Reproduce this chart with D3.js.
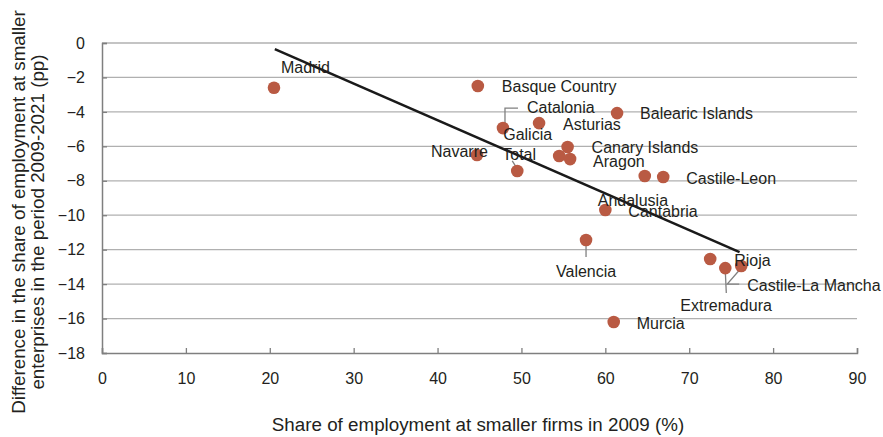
<!DOCTYPE html>
<html>
<head>
<meta charset="utf-8">
<script src="https://cdn.jsdelivr.net/npm/d3@7"></script>
<style>
  body { margin: 0; background: #fff; }
  text { font-family: "Liberation Sans", Arial, Helvetica, sans-serif; fill: #231f20; }
</style>
</head>
<body>
<div id="chart"></div>
<script>
const AREA_WIDTH = 883;
const AREA_HEIGHT = 437;

// data
const regions = ['Madrid', 'Basque Country', 'Catalonia', 'Asturias', 'Balearic Islands', 'Navarre',
  'Total', 'Canary Islands', 'Galicia', 'Aragon', 'Andalusia', 'Castile-Leon', 'Cantabria',
  'Valencia', 'Rioja', 'Extremadura', 'Castile-La Mancha', 'Murcia'];
const share2009 = [20.5, 44.8, 47.8, 52.1, 61.4, 44.7, 49.5, 55.5, 54.5, 55.8, 64.7, 66.9, 60.0,
  57.7, 72.5, 74.3, 76.2, 61.0];
const diffPP = [-2.6, -2.5, -4.94, -4.65, -4.07, -6.5, -7.43, -6.04, -6.56, -6.74, -7.72, -7.78, -9.7,
  -11.44, -12.54, -13.07, -12.95, -16.2];
const trendX = [20.6, 76.0];
const trendY = [-0.35, -12.14];
const xTicks = [0, 10, 20, 30, 40, 50, 60, 70, 80, 90];
const yTicks = [0, -2, -4, -6, -8, -10, -12, -14, -16, -18];

// label placement relative to the dot (pixels), and leader lines
const labelPos = {
  'Madrid': [7, -15],
  'Basque Country': [24, 6],
  'Catalonia': [24, -15],
  'Asturias': [24, 7],
  'Balearic Islands': [23, 6],
  'Navarre': [-46, 2],
  'Total': [-15, -11],
  'Canary Islands': [24, 6],
  'Galicia': [-56, -16],
  'Aragon': [23, 8],
  'Andalusia': [-47, 30],
  'Castile-Leon': [23, 7],
  'Cantabria': [23, 7],
  'Valencia': [-30, 37],
  'Rioja': [24, 7],
  'Extremadura': [-45, 43],
  'Castile-La Mancha': [6, 25],
  'Murcia': [23, 7]
};
const leaders = {
  'Catalonia': [[2, -4], [2, -20], [15, -20]],
  'Total': [[0, -2], [-5, -10]],
  'Valencia': [[0, 6], [0, 17]],
  'Extremadura': [[0, 3], [1, 25]],
  'Castile-La Mancha': [[0, 2], [-14, 18], [-2, 18]]
};

const points = regions.map((name, i) => ({ name, x: share2009[i], y: diffPP[i] }));

const svg = d3.select('#chart')
  .append('svg')
  .attr('width', AREA_WIDTH)
  .attr('height', AREA_HEIGHT);

const x = d3.scaleLinear().domain([0, 90]).range([102, 857]);
const y = d3.scaleLinear().domain([0, -18]).range([43, 353]);

// gridlines
svg.append('g')
  .selectAll('line')
  .data(yTicks.filter(d => d !== -18))
  .enter()
  .append('line')
  .attr('x1', x(0))
  .attr('x2', x(90))
  .attr('y1', d => y(d))
  .attr('y2', d => y(d))
  .attr('stroke', '#b0b0b0')
  .attr('stroke-width', 1.3);

// y axis
const yAxis = svg.append('g')
  .attr('transform', `translate(${x(0)},0)`)
  .call(d3.axisRight(y).tickValues(yTicks).tickSize(5).tickFormat(d3.format('d')));
yAxis.select('.domain').attr('stroke', '#7f7f7f').attr('stroke-width', 1.5);
yAxis.selectAll('.tick line').attr('stroke', '#7f7f7f').attr('stroke-width', 1.3);
yAxis.selectAll('.tick text')
  .attr('x', -17)
  .attr('text-anchor', 'end')
  .style('font-size', '16px');

// x axis
const xAxis = svg.append('g')
  .attr('transform', `translate(0,${y(-18)})`)
  .call(d3.axisTop(x).tickValues(xTicks).tickSize(5));
xAxis.select('.domain').attr('stroke', '#7f7f7f').attr('stroke-width', 1.5);
xAxis.selectAll('.tick line').attr('stroke', '#7f7f7f').attr('stroke-width', 1.3);
xAxis.selectAll('.tick text')
  .attr('y', 31)
  .attr('dy', 0)
  .style('font-size', '16px');

// axis titles
svg.append('text')
  .attr('x', 478)
  .attr('y', 431)
  .attr('text-anchor', 'middle')
  .style('font-size', '18.8px')
  .text('Share of employment at smaller firms in 2009 (%)');

const yTitle = svg.append('text')
  .attr('transform', 'translate(0, 212) rotate(-90)')
  .attr('text-anchor', 'middle')
  .style('font-size', '18.8px');
yTitle.append('tspan').attr('x', 0).attr('y', 25).text('Difference in the share of employment at smaller');
yTitle.append('tspan').attr('x', -10).attr('y', 44).text('enterprises in the period 2009-2021 (pp)');

// leader lines
svg.append('g')
  .selectAll('path')
  .data(points.filter(d => leaders[d.name]))
  .enter()
  .append('path')
  .attr('d', d => d3.line()(leaders[d.name].map(p => [x(d.x) + p[0], y(d.y) + p[1]])))
  .attr('fill', 'none')
  .attr('stroke', '#808080')
  .attr('stroke-width', 1.3);

// dots
svg.append('g')
  .selectAll('circle')
  .data(points)
  .enter()
  .append('circle')
  .attr('cx', d => x(d.x))
  .attr('cy', d => y(d.y))
  .attr('r', 6.3)
  .attr('fill', '#b95a43');

// trend line
svg.append('line')
  .attr('x1', x(trendX[0]))
  .attr('y1', y(trendY[0]))
  .attr('x2', x(trendX[1]))
  .attr('y2', y(trendY[1]))
  .attr('stroke', '#1a1a1a')
  .attr('stroke-width', 2.5);

// data labels
svg.append('g')
  .selectAll('text')
  .data(points)
  .enter()
  .append('text')
  .attr('x', d => x(d.x) + labelPos[d.name][0])
  .attr('y', d => y(d.y) + labelPos[d.name][1])
  .style('font-size', '16px')
  .text(d => d.name);
</script>
</body>
</html>
